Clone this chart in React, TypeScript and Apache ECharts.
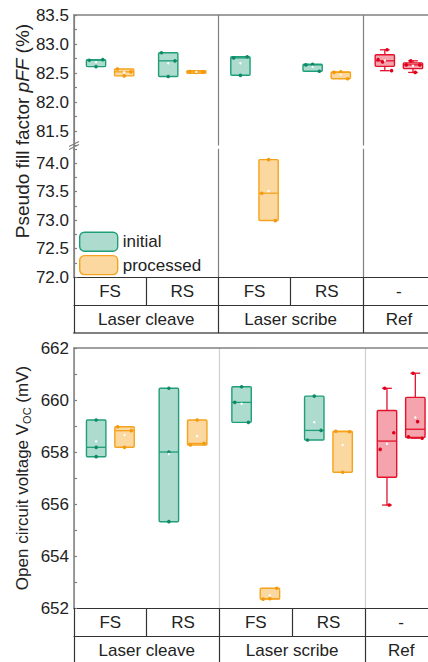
import React, { useEffect, useRef } from 'react';
import * as echarts from 'echarts';

// ---------- data ----------
const categories = ['FS', 'RS', 'FS', 'RS', '-'];
const groups = ['Laser cleave', 'Laser scribe', 'Ref'];
const groupSizes = [2, 2, 1];

// pseudo fill factor pFF (%), points listed left to right inside each box
const pffInitial = [
  [82.72, 82.61, 82.73],
  [82.85, 82.44, 82.71],
  [82.76, 82.46, 82.78],
  [82.64, 82.65, 82.53],
  [82.73, 82.69, 82.9, 82.54],
];
const pffProcessed = [
  [82.57, 82.45, 82.52],
  [82.525, 82.51, 82.52],
  [73.47, 74.06, 72.99],
  [82.51, 82.52, 82.4],
  [82.64, 82.71, 82.51, 82.64],
];
// open circuit voltage Voc (mV)
const vocInitial = [
  [659.23, 658.18, 657.82],
  [660.45, 658.0, 655.32],
  [659.91, 660.51, 659.14],
  [658.46, 660.15, 658.83],
  [658.1, 660.45, 655.96, 658.74],
];
const vocProcessed = [
  [658.97, 658.18, 658.82],
  [658.27, 659.23, 658.33],
  [652.34, 652.36, 652.76],
  [658.8, 657.22, 658.78],
  [658.58, 661.03, 659.17, 658.53],
];

// ---------- styles ----------
const FONT = 'Liberation Sans, Arial, Helvetica, sans-serif';
const TXT = '#222222';
const AXIS_GRAY = '#808080';
const TABLE = '#333333';
const GREEN = { fill: 'rgba(27,158,119,0.36)', stroke: '#1f9e78', dot: '#10896a' };
const ORANGE = { fill: 'rgba(245,163,28,0.42)', stroke: '#f5a31c', dot: '#f39a0c' };
const RED = { fill: 'rgba(228,17,43,0.38)', stroke: '#e4112b', dot: '#e0001c' };
const REF_INDEX = 4;
const OFFSET = 0.195;
const BOX_W = 0.267;
const SPREAD_DEFAULT = [1, 1, 1, 1, 1];
const SPREAD_VOC_INITIAL = [0, 0, 1, 1, 1];

function quant(s: number[], p: number) {
  const np = s.length * p;
  const j = Math.floor(np + 1e-9);
  if (Math.abs(np - j) < 1e-9) return (s[j - 1] + s[j]) / 2;
  return s[j];
}
function stats(vals: number[]) {
  const s = [...vals].sort((a, b) => a - b);
  return {
    min: s[0],
    max: s[s.length - 1],
    q1: quant(s, 0.25),
    med: quant(s, 0.5),
    q3: quant(s, 0.75),
    mean: vals.reduce((a, b) => a + b, 0) / vals.length,
  };
}

const makeRender =
  (sets: number[][], side: number, base: any, range: number[], spreads: number[]) =>
  (params: any, api: any) => {
    const i = params.dataIndex;
    const vals = sets[i];
    const st = stats(vals);
    if (st.med < range[0] || st.med > range[1]) return { type: 'group', children: [] };
    const col = i === REF_INDEX ? RED : base;
    const band = api.size([1, 0])[0];
    const cx = api.coord([i + 0.5 + side * OFFSET, st.med])[0];
    const bw = band * BOX_W;
    const Y = (v: number) => api.coord([i, v])[1];
    const children: any[] = [];
    const capW = bw * 0.5;
    const ls = { stroke: col.stroke, lineWidth: 1.3 };
    if (st.max > st.q3 + 1e-9) {
      children.push({ type: 'line', shape: { x1: cx, y1: Y(st.q3), x2: cx, y2: Y(st.max) }, style: ls });
      children.push({ type: 'line', shape: { x1: cx - capW / 2, y1: Y(st.max), x2: cx + capW / 2, y2: Y(st.max) }, style: ls });
    }
    if (st.min < st.q1 - 1e-9) {
      children.push({ type: 'line', shape: { x1: cx, y1: Y(st.q1), x2: cx, y2: Y(st.min) }, style: ls });
      children.push({ type: 'line', shape: { x1: cx - capW / 2, y1: Y(st.min), x2: cx + capW / 2, y2: Y(st.min) }, style: ls });
    }
    let yTop = Y(st.q3);
    let yBot = Y(st.q1);
    if (yBot - yTop < 2.5) {
      const m = (yTop + yBot) / 2;
      yTop = m - 1.25;
      yBot = m + 1.25;
    }
    children.push({
      type: 'rect',
      shape: { x: cx - bw / 2, y: yTop, width: bw, height: yBot - yTop, r: 1 },
      style: { fill: col.fill, stroke: col.stroke, lineWidth: 1.4 },
    });
    children.push({ type: 'line', shape: { x1: cx - bw / 2, y1: Y(st.med), x2: cx + bw / 2, y2: Y(st.med) }, style: ls });
    const n = vals.length;
    vals.forEach((v, k) => {
      const f = n === 1 ? 0 : -0.35 + (0.7 * k) / (n - 1);
      children.push({
        type: 'circle',
        shape: { cx: cx + f * bw * spreads[i], cy: Y(v), r: 1.8 },
        style: { fill: col.dot },
      });
    });
    children.push({ type: 'circle', shape: { cx, cy: Y(st.mean), r: 1.2 }, style: { fill: '#ffffff' } });
    return { type: 'group', children };
  };

const catCenters = categories.map((_, i) => i + 0.5);
const catBounds = categories.map((_, i) => i);
const groupBounds: number[] = [];
const groupCenters: number[] = [];
{
  let acc = 0;
  groupSizes.forEach((g) => {
    groupBounds.push(acc);
    groupCenters.push(acc + g / 2);
    acc += g;
  });
}

const labelStyle = { fontSize: 17, color: TXT, fontFamily: FONT };

function frameAxis(gridIndex: number, position: string, showLine: boolean, splitColor: string) {
  return {
    type: 'value',
    gridIndex,
    position,
    min: 0,
    max: categories.length,
    interval: 2,
    axisLine: { show: showLine, lineStyle: { color: AXIS_GRAY, width: 1.5 } },
    axisTick: { show: false },
    axisLabel: { show: false },
    splitLine: { show: true, lineStyle: { color: splitColor, width: 1.2 } },
  };
}
function row1Axis(gridIndex: number) {
  return {
    type: 'value',
    gridIndex,
    position: 'bottom',
    min: 0,
    max: categories.length,
    axisLine: { show: true, lineStyle: { color: TABLE, width: 1.2 } },
    axisTick: { show: true, customValues: catBounds, length: 28, lineStyle: { color: TABLE, width: 1.2 } },
    axisLabel: {
      ...labelStyle,
      customValues: catCenters,
      formatter: (v: number) => categories[Math.floor(v)],
      margin: 14,
      verticalAlign: 'middle',
    },
    splitLine: { show: false },
  };
}
function row2Axis(gridIndex: number) {
  return {
    type: 'value',
    gridIndex,
    position: 'bottom',
    offset: 28,
    min: 0,
    max: categories.length,
    axisLine: { show: true, lineStyle: { color: TABLE, width: 1.2 } },
    axisTick: { show: true, customValues: groupBounds, length: 28, lineStyle: { color: TABLE, width: 1.2 } },
    axisLabel: {
      ...labelStyle,
      customValues: groupCenters,
      formatter: (v: number) => groups[groupCenters.indexOf(v)],
      margin: 14,
      verticalAlign: 'middle',
    },
    splitLine: { show: false },
  };
}
function yAxis(gridIndex: number, min: number, max: number, interval: number, fmt: (v: number) => string) {
  return {
    type: 'value',
    gridIndex,
    min,
    max,
    interval,
    axisLine: { show: true, lineStyle: { color: AXIS_GRAY, width: 1.5 } },
    axisTick: { show: true, inside: true, length: 3, lineStyle: { color: AXIS_GRAY, width: 1.2 } },
    axisLabel: { ...labelStyle, margin: 5, formatter: fmt },
    splitLine: { show: false },
  };
}
const pffFmt = (v: number) => (Math.abs(v * 2 - Math.round(v * 2)) < 1e-6 ? v.toFixed(1) : '');
const vocFmt = (v: number) => (Math.round(v) % 2 === 0 ? String(Math.round(v)) : '');

export default function App() {
  const ref = useRef<HTMLDivElement>(null);
  useEffect(() => {
    if (!ref.current) return;
    const chart = echarts.init(ref.current, undefined, { renderer: 'svg' });
    const mk = (name: string, sets: number[][], side: number, col: any, x: number, y: number, range: number[], spreads: number[]) => ({
      type: 'custom',
      name,
      xAxisIndex: x,
      yAxisIndex: y,
      renderItem: makeRender(sets, side, col, range, spreads),
      data: sets.map((s, i) => [i + 0.5, stats(s).med]),
      z: 5,
    });
    const option: any = {
      animation: false,
      backgroundColor: '#ffffff',
      textStyle: { fontFamily: FONT },
      grid: [
        { left: 74, top: 15, width: 361, height: 130.5, outerBoundsMode: 'none' },
        { left: 74, top: 148.75, width: 361, height: 128.25, outerBoundsMode: 'none' },
        { left: 74, top: 348, width: 363.5, height: 260, outerBoundsMode: 'none' },
      ],
      xAxis: [
        frameAxis(0, 'top', true, AXIS_GRAY),
        frameAxis(1, 'bottom', false, AXIS_GRAY),
        row1Axis(1),
        row2Axis(1),
        {
          type: 'value', gridIndex: 1, position: 'bottom', offset: 56, min: 0, max: categories.length,
          axisLine: { show: true, lineStyle: { color: AXIS_GRAY, width: 2 } },
          axisTick: { show: false }, axisLabel: { show: false }, splitLine: { show: false },
        },
        frameAxis(2, 'top', true, '#cfcfcf'),
        row1Axis(2),
        row2Axis(2),
      ],
      yAxis: [
        yAxis(0, 81.25, 83.5, 0.25, pffFmt),
        yAxis(1, 72, 74.25, 0.25, pffFmt),
        yAxis(2, 652, 662, 1, vocFmt),
      ],
      legend: {
        left: 79,
        top: 231.5,
        orient: 'vertical',
        itemWidth: 38,
        itemHeight: 19,
        itemGap: 3,
        padding: 0,
        selectedMode: false,
        textStyle: { fontSize: 17, color: TXT, fontFamily: FONT },
        data: [
          { name: 'initial', icon: 'roundRect', itemStyle: { color: GREEN.fill, borderColor: GREEN.stroke, borderWidth: 1.4 } },
          { name: 'processed', icon: 'roundRect', itemStyle: { color: ORANGE.fill, borderColor: ORANGE.stroke, borderWidth: 1.4 } },
        ],
      },
      series: [
        mk('initial', pffInitial, -1, GREEN, 0, 0, [81.25, 83.5], SPREAD_DEFAULT),
        mk('initial', pffInitial, -1, GREEN, 1, 1, [72, 74.25], SPREAD_DEFAULT),
        mk('processed', pffProcessed, 1, ORANGE, 0, 0, [81.25, 83.5], SPREAD_DEFAULT),
        mk('processed', pffProcessed, 1, ORANGE, 1, 1, [72, 74.25], SPREAD_DEFAULT),
        mk('initial', vocInitial, -1, GREEN, 5, 2, [652, 662], SPREAD_VOC_INITIAL),
        mk('processed', vocProcessed, 1, ORANGE, 5, 2, [652, 662], SPREAD_DEFAULT),
      ],
      graphic: [
        { type: 'line', shape: { x1: 74, y1: 145, x2: 74, y2: 149.5 }, style: { stroke: AXIS_GRAY, lineWidth: 1.5 }, z: 10 },
        { type: 'line', shape: { x1: 69, y1: 146.5, x2: 79, y2: 141.5 }, style: { stroke: AXIS_GRAY, lineWidth: 1.1 }, z: 11 },
        { type: 'line', shape: { x1: 69, y1: 149.5, x2: 79, y2: 144.5 }, style: { stroke: AXIS_GRAY, lineWidth: 1.1 }, z: 11 },
        {
          type: 'text', x: 22, y: 131, rotation: Math.PI / 2, z: 10,
          style: {
            text: 'Pseudo fill factor {i|pFF} (%)',
            fontSize: 19, fontFamily: FONT, fill: TXT, align: 'center', verticalAlign: 'middle',
            rich: { i: { fontStyle: 'italic', fontSize: 19, fontFamily: FONT, fill: TXT } },
          },
        },
        {
          type: 'text', x: 22, y: 478, rotation: Math.PI / 2, z: 10,
          style: {
            text: '{n|Open circuit voltage V}{s|OC}{n| (mV)}',
            fontSize: 17, fontFamily: FONT, fill: TXT, align: 'center', verticalAlign: 'middle',
            rich: {
              n: { fontSize: 17, fontFamily: FONT, fill: TXT, lineHeight: 24, verticalAlign: 'middle' },
              s: { fontSize: 11, fontFamily: FONT, fill: TXT, lineHeight: 12, verticalAlign: 'bottom', padding: [0, 0, 2, 0] },
            },
          },
        },
      ],
    };
    chart.setOption(option);
    return () => chart.dispose();
  }, []);
  return (
    <div style={{ position: 'absolute', left: 0, top: 0, width: 428, height: 662, overflow: 'hidden', background: '#fff' }}>
      <div ref={ref} style={{ width: 440, height: 672 }} />
    </div>
  );
}
